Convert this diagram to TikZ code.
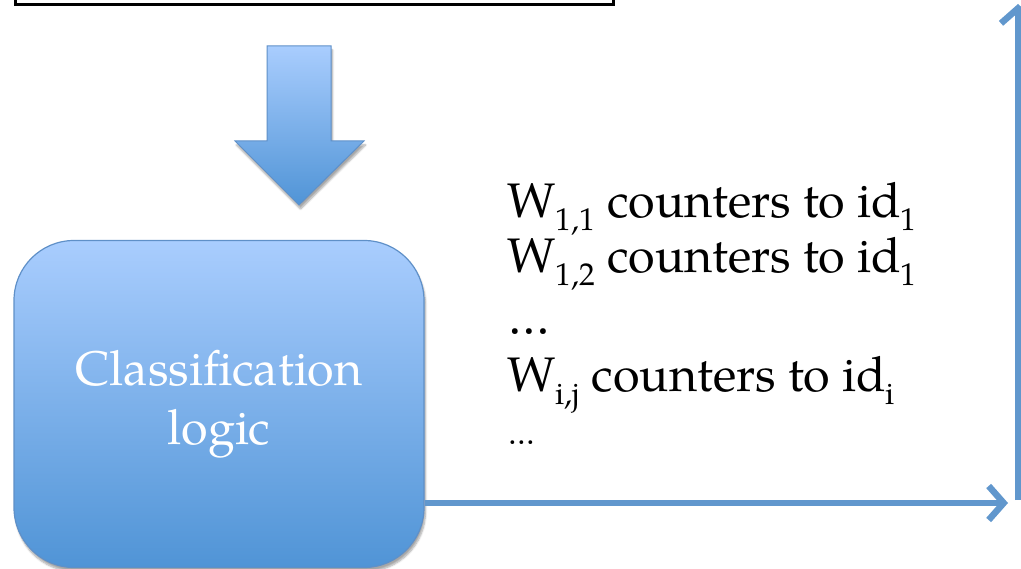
\documentclass[tikz,border=0pt]{standalone}
\usepackage{fontspec}
\setmainfont{TeX Gyre Pagella}
\usetikzlibrary{arrows.meta,shadows.blur}

\definecolor{boxtop}{HTML}{A9CDFE}
\definecolor{boxbot}{HTML}{5094D6}
\definecolor{boxedge}{HTML}{5F90C8}
\definecolor{flow}{HTML}{6197CD}

% lowered, smaller index as used in the counter list
\newcommand\lowsub[1]{\raisebox{-0.26em}{\fontsize{31.5}{31.5}\selectfont #1}}

\begin{document}
\begin{tikzpicture}[x=1pt,y=-1pt,
  softshadow/.style={blur shadow={shadow xshift=1.5pt,shadow yshift=-4pt,
      shadow blur steps=6,shadow opacity=35}},
  bluebody/.style={top color=boxtop,bottom color=boxbot,draw=boxedge,line width=1.2pt},
  flowline/.style={draw=flow,line width=6.5pt,
      -{Straight Barb[length=15pt,width=34pt]}},
  bigtext/.style={font=\fontsize{48.5}{59}\selectfont},
  listline/.style={bigtext,anchor=base west,inner sep=0pt,outer sep=0pt}]

\useasboundingbox (0,0) rectangle (1021,569);

% input box, only its lower edge is in view
\node[draw,line width=3.2pt,minimum width=598pt,minimum height=40pt,
      anchor=south west,inner sep=0pt] (inputbox) at (14,6) {};

% block arrow feeding the classifier
\path[bluebody,line width=1pt,softshadow]
  (267,46) -- (331,46) -- (331,141) -- (364,141) -- (299,205)
  -- (235,141) -- (267,141) -- cycle;

% classifier
\node[bluebody,softshadow,rounded corners=60pt,minimum width=410pt,
      minimum height=327pt,text=white,align=center,bigtext]
      (logic) at (219,404) {Classification\\logic};

% counter assignments
\node[listline] (w11) at (507,218) {W\lowsub{1,1} counters to id\lowsub{1}};
\node[listline] (w12) at (507,273) {W\lowsub{1,2} counters to id\lowsub{1}};
\node[listline] (dotsA) at (508,335) {…};
\node[listline] (wij) at (507,392) {W\lowsub{i,j} counters to id\lowsub{i}};
\node[listline,font=\fontsize{31}{31}\selectfont] (dotsB) at (508,445) {…};

% output connectors
\coordinate (sink) at (1008,503);
\coordinate (upfoot) at (1018,500);
\coordinate (uptop) at (1018,4);
\draw[flowline] ([yshift=-99pt]logic.east) -- (sink);
\draw[flowline] (upfoot) -- (uptop);
\end{tikzpicture}
\end{document}
